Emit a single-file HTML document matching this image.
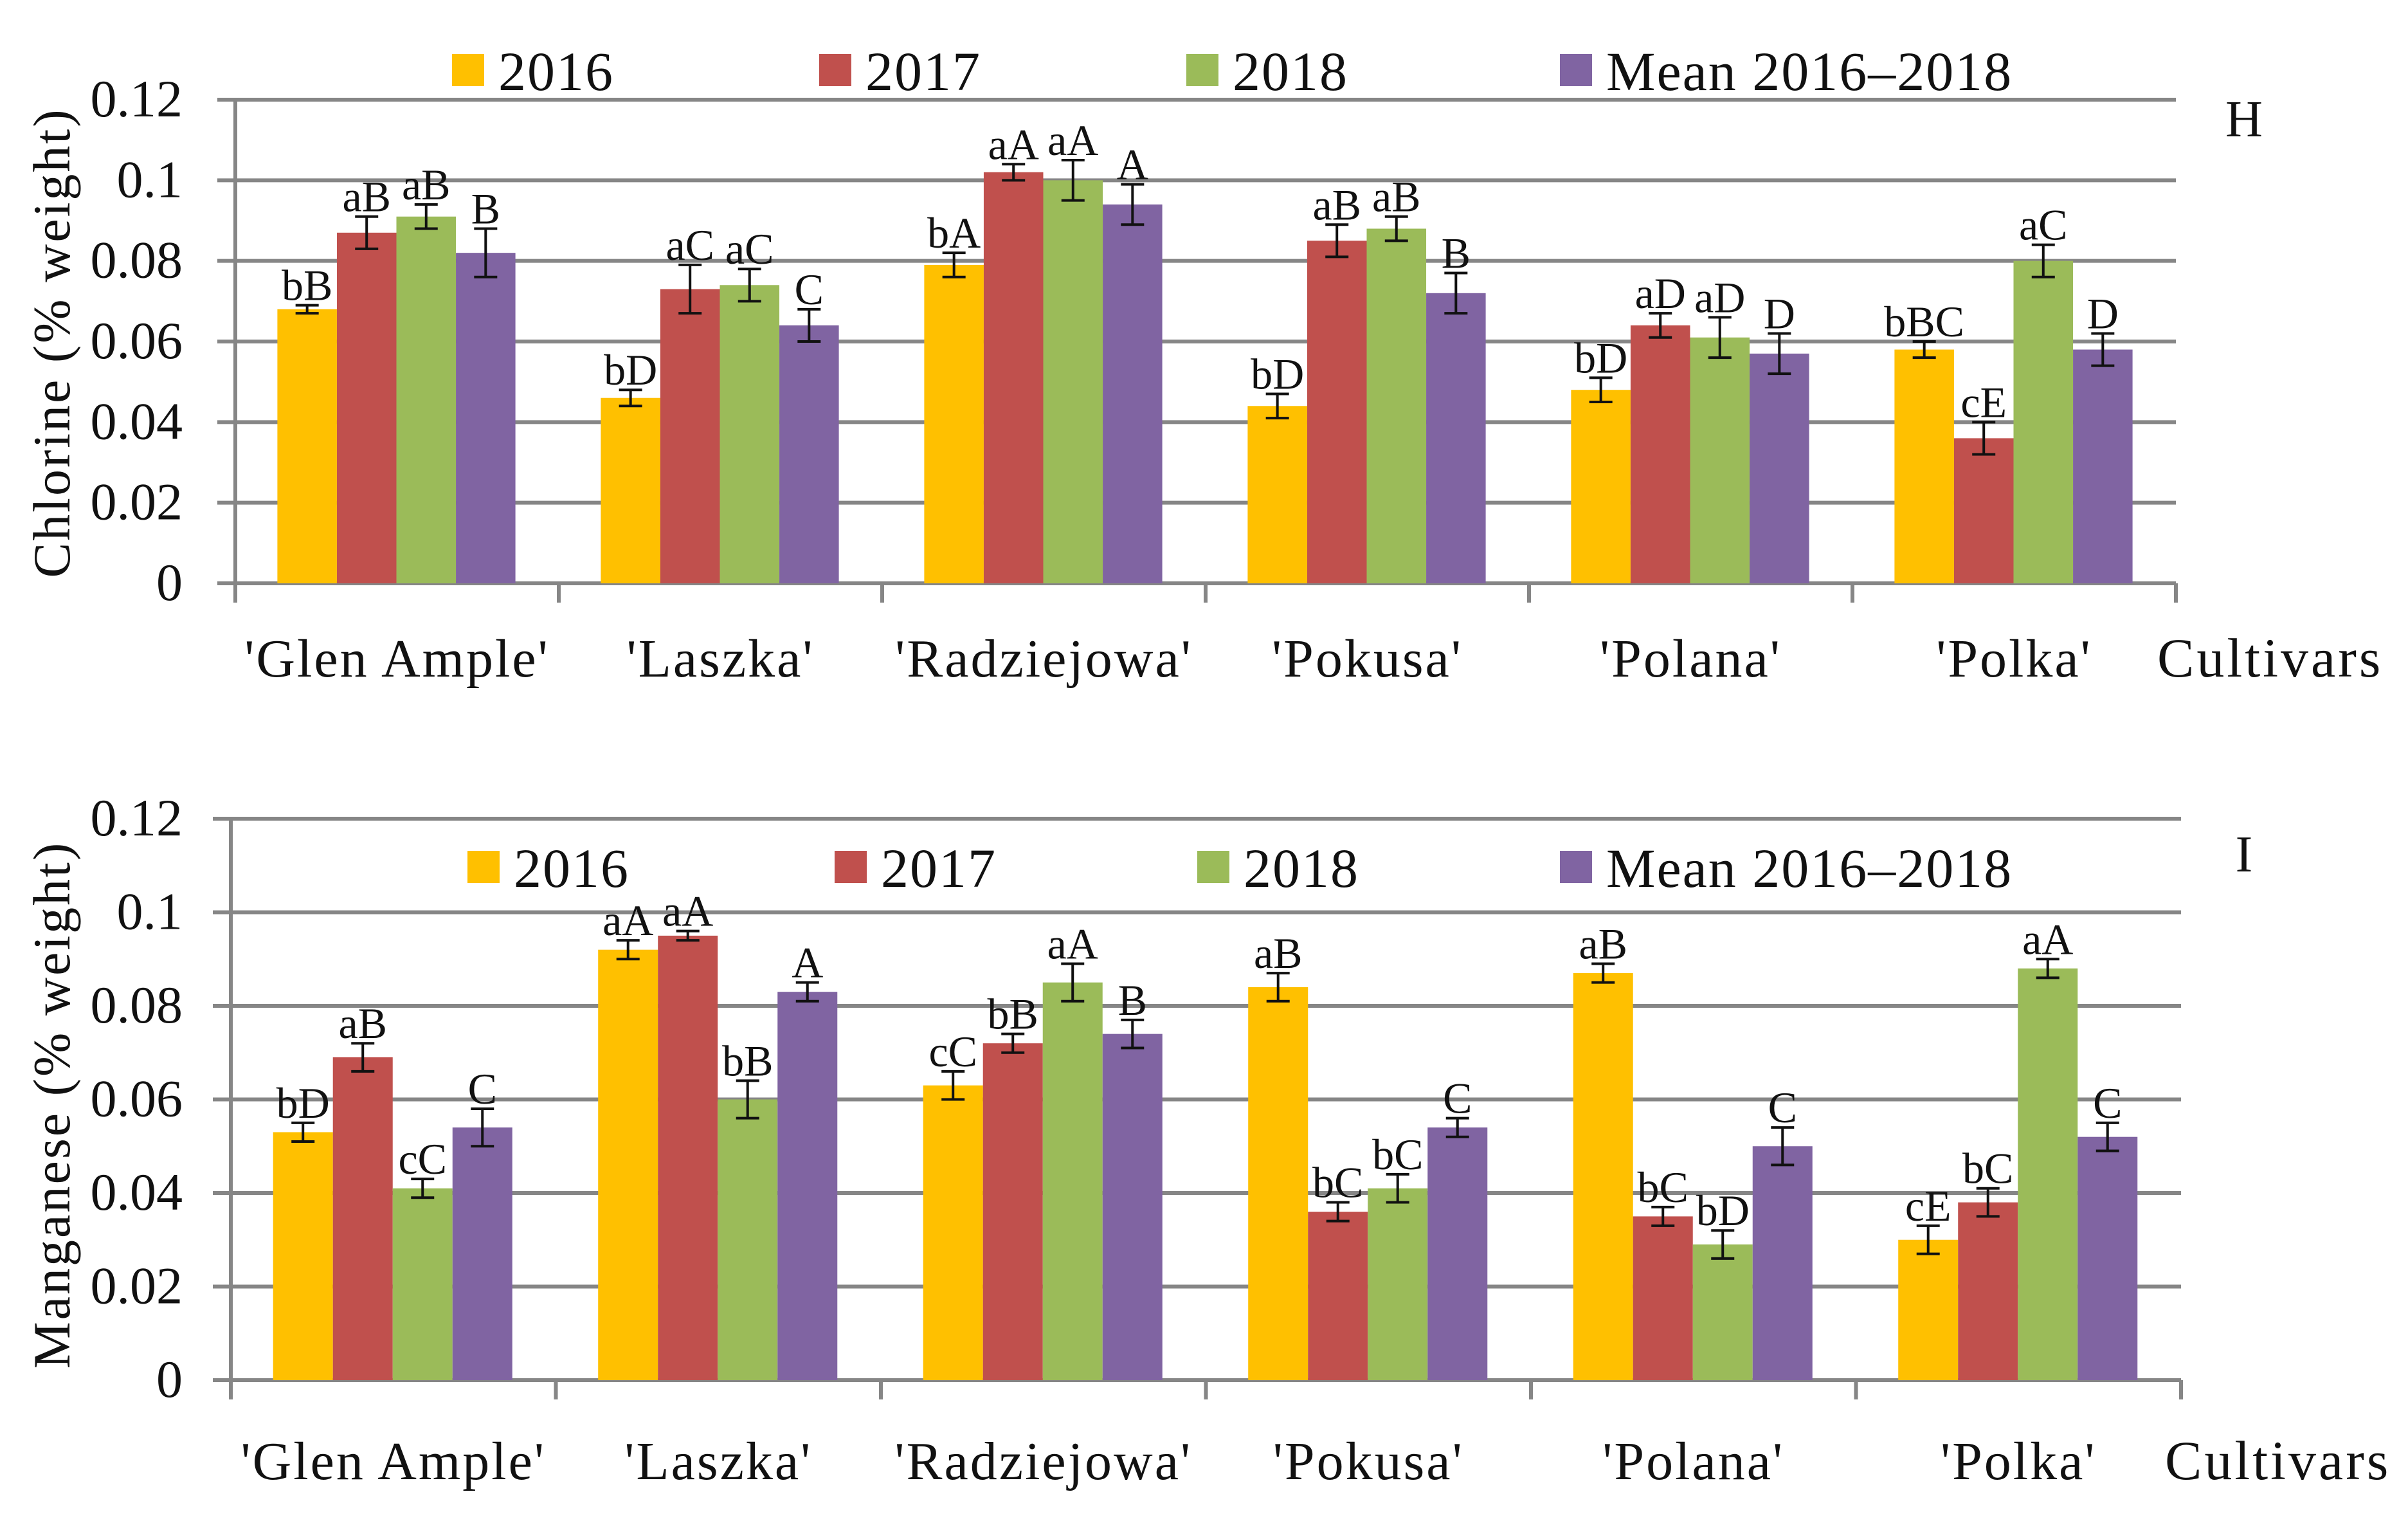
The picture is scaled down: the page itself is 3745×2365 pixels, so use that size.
<!DOCTYPE html>
<html><head><meta charset="utf-8">
<style>
html,body{margin:0;padding:0;background:#fff;}
svg{display:block;font-family:"Liberation Serif",serif;}
</style></head>
<body>
<svg id="chart" width="3745" height="2365" viewBox="0 0 3745 2365" xmlns="http://www.w3.org/2000/svg"></svg>
<script>
const categories = ["'Glen Ample'", "'Laszka'", "'Radziejowa'", "'Pokusa'", "'Polana'", "'Polka'"];
const seriesNames = ["2016", "2017", "2018", "Mean 2016\u20132018"];
const yTicks = [0, 0.02, 0.04, 0.06, 0.08, 0.1, 0.12];
const yTickLabels = ["0", "0.02", "0.04", "0.06", "0.08", "0.1", "0.12"];

const clVals2016 = [0.068, 0.046, 0.079, 0.044, 0.048, 0.058];
const clVals2017 = [0.087, 0.073, 0.102, 0.085, 0.064, 0.036];
const clVals2018 = [0.091, 0.074, 0.100, 0.088, 0.061, 0.080];
const clValsMean = [0.082, 0.064, 0.094, 0.072, 0.057, 0.058];
const clErr2016 = [0.001, 0.002, 0.003, 0.003, 0.003, 0.002];
const clErr2017 = [0.004, 0.006, 0.002, 0.004, 0.003, 0.004];
const clErr2018 = [0.003, 0.004, 0.005, 0.003, 0.005, 0.004];
const clErrMean = [0.006, 0.004, 0.005, 0.005, 0.005, 0.004];
const clLab2016 = ["bB", "bD", "bA", "bD", "bD", "bBC"];
const clLab2017 = ["aB", "aC", "aA", "aB", "aD", "cE"];
const clLab2018 = ["aB", "aC", "aA", "aB", "aD", "aC"];
const clLabMean = ["B", "C", "A", "B", "D", "D"];

const mnVals2016 = [0.053, 0.092, 0.063, 0.084, 0.087, 0.030];
const mnVals2017 = [0.069, 0.095, 0.072, 0.036, 0.035, 0.038];
const mnVals2018 = [0.041, 0.060, 0.085, 0.041, 0.029, 0.088];
const mnValsMean = [0.054, 0.083, 0.074, 0.054, 0.050, 0.052];
const mnErr2016 = [0.002, 0.002, 0.003, 0.003, 0.002, 0.003];
const mnErr2017 = [0.003, 0.001, 0.002, 0.002, 0.002, 0.003];
const mnErr2018 = [0.002, 0.004, 0.004, 0.003, 0.003, 0.002];
const mnErrMean = [0.004, 0.002, 0.003, 0.002, 0.004, 0.003];
const mnLab2016 = ["bD", "aA", "cC", "aB", "aB", "cE"];
const mnLab2017 = ["aB", "aA", "bB", "bC", "bC", "bC"];
const mnLab2018 = ["cC", "bB", "aA", "bC", "bD", "aA"];
const mnLabMean = ["C", "A", "B", "C", "C", "C"];

const colors = ["#FFC000", "#C0504D", "#9BBB59", "#8064A2"];
const NS = "http://www.w3.org/2000/svg";
const svg = document.getElementById("chart");
function mk(tag, attrs, parent) {
  const e = document.createElementNS(NS, tag);
  for (const k in attrs) e.setAttribute(k, attrs[k]);
  (parent || svg).appendChild(e);
  return e;
}

function drawPanel(cfg) {
  const g = mk("g", {});
  
  
  const x0 = cfg.x0, x1 = cfg.x1, y0 = cfg.y0, y1 = cfg.y1;
  const yScale = v => y0 - (v / 0.12) * (y0 - y1);
  const catW = (x1 - x0) / categories.length;
  const xCat = i => x0 + i * catW;
  yTicks.forEach((t, i) => {
    const y = yScale(t);
    const l = mk("line", {x1: x0 - 28, x2: x1, y1: y, y2: y, stroke: "#868686", "stroke-width": 6}, g);
    
    
    const tx = mk("text", {x: 284, y: y + 26, "font-size": 82, "text-anchor": "end", fill: "#111"}, g);
    tx.textContent = yTickLabels[i];
    
    
  });
  const ya = mk("line", {x1: x0, x2: x0, y1: y1, y2: y0 + 30, stroke: "#868686", "stroke-width": 6}, g);
  
  
  for (let i = 1; i <= categories.length; i++) {
    const tk = mk("line", {x1: xCat(i), x2: xCat(i), y1: y0, y2: y0 + 30, stroke: "#868686", "stroke-width": 6}, g);
    
    
  }
  const bw = catW * 0.184, off = catW * 0.13;
  cfg.vals.forEach((arr, s) => {
    arr.forEach((v, i) => {
      const bx = xCat(i) + off + s * bw;
      const by = yScale(v);
      const r = mk("rect", {x: bx, y: by, width: bw, height: y0 - by, fill: colors[s]}, g);
      
      
      const e = cfg.errs[s][i];
      const cx = bx + bw / 2;
      const yt = yScale(v + e), yb = yScale(v - e);
      const eg = mk("path", {d: `M${cx - 18},${yt}H${cx + 18}M${cx},${yt}V${yb}M${cx - 18},${yb}H${cx + 18}`, stroke: "#111", "stroke-width": 4, fill: "none"}, g);
      
      
      const lt = mk("text", {x: cx, y: yt - 8, "font-size": 68, "text-anchor": "middle", fill: "#111"}, g);
      lt.textContent = cfg.labs[s][i];
      
      
    });
  });
  categories.forEach((c, i) => {
    const t = mk("text", {x: xCat(i) + catW / 2, y: cfg.catY, "font-size": 84, "text-anchor": "middle", "letter-spacing": 3, fill: "#111"}, g);
    t.textContent = c;
    
    
  });
  const cu = mk("text", {x: cfg.cultX, y: cfg.catY, "font-size": 86, "letter-spacing": 4, fill: "#111"}, g);
  cu.textContent = "Cultivars";
  
  
  const yt = mk("text", {x: 0, y: 0, "font-size": 82, "text-anchor": "middle", "letter-spacing": 3, fill: "#111", transform: `translate(108,${cfg.titleY}) rotate(-90)`}, g);
  yt.textContent = cfg.title;
  
  
  const pl = mk("text", {x: 3490, y: cfg.panelY, "font-size": 80, "text-anchor": "middle", fill: "#111"}, g);
  pl.textContent = cfg.panel;
  
  
  cfg.legX.forEach((lx, s) => {
    const sq = mk("rect", {x: lx, y: cfg.legY - 26, width: 50, height: 50, fill: colors[s]}, g);
    
    
    const lt = mk("text", {x: lx + 72, y: cfg.legY + 30, "font-size": 86, "letter-spacing": 2, fill: "#111"}, g);
    lt.textContent = seriesNames[s];
    
    
  });
}

drawPanel({name: "chlorine-panel", x0: 366, x1: 3384, y0: 907, y1: 155,
  vals: [clVals2016, clVals2017, clVals2018, clValsMean],
  errs: [clErr2016, clErr2017, clErr2018, clErrMean],
  labs: [clLab2016, clLab2017, clLab2018, clLabMean],
  catY: 1052, cultX: 3355, title: "Chlorine (% weight)", titleY: 533,
  panel: "H", panelY: 212, legX: [703, 1274, 1845, 2426], legY: 110});

drawPanel({name: "manganese-panel", x0: 359, x1: 3392, y0: 2146, y1: 1273,
  vals: [mnVals2016, mnVals2017, mnVals2018, mnValsMean],
  errs: [mnErr2016, mnErr2017, mnErr2018, mnErrMean],
  labs: [mnLab2016, mnLab2017, mnLab2018, mnLabMean],
  catY: 2300, cultX: 3367, title: "Manganese (% weight)", titleY: 1718,
  panel: "I", panelY: 1355, legX: [727, 1298, 1862, 2426], legY: 1349});
</script>
</body></html>
